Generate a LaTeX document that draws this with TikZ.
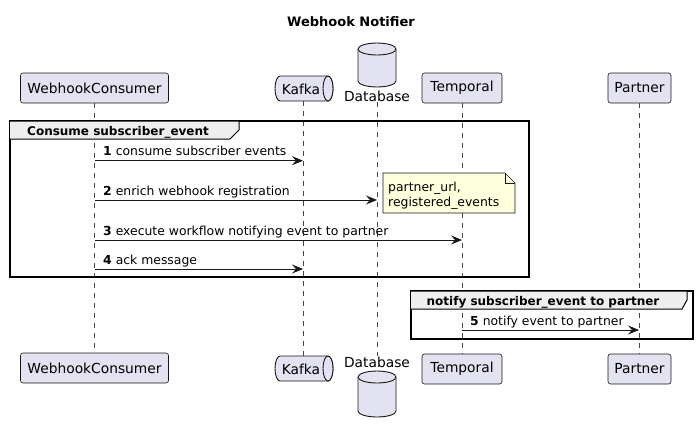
\documentclass[tikz,border=0pt]{standalone}
\usepackage{fontspec}
\setmainfont{DejaVu Sans}
\usetikzlibrary{arrows.meta}
\definecolor{partfill}{HTML}{E2E2F0}
\definecolor{partdraw}{HTML}{181818}
\definecolor{notefill}{HTML}{FEFFDD}
\definecolor{tabfill}{HTML}{EEEEEE}
\tikzset{
  part/.style={draw=partdraw, fill=partfill, line width=0.6pt, rounded corners=2.5pt,
    minimum height=30pt, inner sep=0pt, font=\fontsize{13.8}{16}\selectfont},
  plain/.style={inner sep=0pt, font=\fontsize{13.8}{16}\selectfont},
  lifeline/.style={draw=partdraw!80, line width=0.5pt, dash pattern=on 5pt off 5pt},
  msg/.style={draw=partdraw, line width=0.8pt, -{Stealth[length=11pt,width=9pt,inset=4pt]}},
  msglabel/.style={anchor=base west, inner sep=0pt, font=\fontsize{12.4}{15}\selectfont},
  grpframe/.style={draw=black, line width=1.5pt},
  grptab/.style={draw=black, fill=tabfill, line width=1pt},
  grplabel/.style={inner sep=0pt, anchor=base west, font=\bfseries\fontsize{12}{15}\selectfont},
  cyl/.style={draw=partdraw, fill=partfill, line width=0.9pt},
}
\begin{document}
\begin{tikzpicture}[x=1pt,y=-1pt]
\useasboundingbox (0,0) rectangle (698,432);
\fill[white] (0,0) rectangle (698,432);

% title
\node[inner sep=0pt, font=\bfseries\fontsize{13}{16}\selectfont] (title) at (351,22) {Webhook Notifier};

% top participants
\node[part, minimum width=148pt] (wc) at (94.5,88) {WebhookConsumer};
\node[part, minimum width=80pt] (tmp) at (462,88) {Temporal};
\node[part, minimum width=63pt] (prt) at (639.5,88) {Partner};
% Kafka queue (top)
\path[cyl] (280,76) -- (328,76) arc[start angle=270,end angle=450,x radius=5,y radius=12.5]
  -- (280,101) arc[start angle=90,end angle=270,x radius=5,y radius=12.5] -- cycle;
\draw[cyl] (328,88.5) ellipse[x radius=5,y radius=12.5];
\node[plain] (kafka) at (301,89) {Kafka};
\coordinate (kafkatop) at (303,101);
% Database (top)
\path[cyl] (358,49) -- (358,81) arc[start angle=180,end angle=0,x radius=19,y radius=6]
  -- (396,49) arc[start angle=360,end angle=180,x radius=19,y radius=6] -- cycle;
\draw[cyl] (358,49) arc[start angle=180,end angle=0,x radius=19,y radius=6];
\node[plain] (db) at (377,96.5) {Database};

% bottom participants
\node[part, minimum width=148pt] (wcb) at (94.5,368) {WebhookConsumer};
\node[part, minimum width=80pt] (tmpb) at (462,369) {Temporal};
\node[part, minimum width=63pt] (prtb) at (639.5,369) {Partner};
% Kafka queue (bottom)
\path[cyl] (280,356) -- (328,356) arc[start angle=270,end angle=450,x radius=5,y radius=12.5]
  -- (280,381) arc[start angle=90,end angle=270,x radius=5,y radius=12.5] -- cycle;
\draw[cyl] (328,368.5) ellipse[x radius=5,y radius=12.5];
\node[plain] (kafkab) at (301,369) {Kafka};
\coordinate (kafkabot) at (303,356);
% Database (bottom)
\node[plain] (dbb) at (377,362) {Database};
\path[cyl] (358,377) -- (358,411) arc[start angle=180,end angle=0,x radius=19,y radius=6]
  -- (396,377) arc[start angle=360,end angle=180,x radius=19,y radius=6] -- cycle;
\draw[cyl] (358,377) arc[start angle=180,end angle=0,x radius=19,y radius=6];

% lifelines
\draw[lifeline] (wc.south) -- (wcb.north);
\draw[lifeline] (kafkatop) -- (kafkabot);
\draw[lifeline] (db.south) -- (dbb.north);
\draw[lifeline] (tmp.south) -- (tmpb.north);
\draw[lifeline] (prt.south) -- (prtb.north);

% group 1
\draw[grpframe] (10,121) rectangle (529,277);
\draw[grptab] (10,121) -- (239,121) -- (239,130) -- (230,139) -- (10,139);
\node[grplabel] (g1) at (27,135) {Consume subscriber\_event};

% note
\draw[draw=partdraw, fill=notefill, line width=0.6pt] (383,173) -- (505,173) -- (515,183) -- (515,213) -- (383,213) -- cycle;
\draw[draw=partdraw, line width=0.6pt] (505,173) -- (505,183) -- (515,183);
\node[msglabel] (n1) at (388,191) {partner\_url,};
\node[msglabel] (n2) at (388,206) {registered\_events};

% messages
\coordinate (a1) at (95,160.7); \coordinate (b1) at (303,160.7);
\coordinate (a2) at (95,200);   \coordinate (b2) at (377,200);
\coordinate (a3) at (95,240);   \coordinate (b3) at (462,240);
\coordinate (a4) at (95,269);   \coordinate (b4) at (303,269);
\draw[msg] (a1) -- (b1);
\draw[msg] (a2) -- (b2);
\draw[msg] (a3) -- (b3);
\draw[msg] (a4) -- (b4);
\node[msglabel] (l1) at (103,155.7) {\textbf{1} consume subscriber events};
\node[msglabel] (l2) at (103,195) {\textbf{2} enrich webhook registration};
\node[msglabel] (l3) at (103,235) {\textbf{3} execute workflow notifying event to partner};
\node[msglabel] (l4) at (103,264) {\textbf{4} ack message};

% group 2
\draw[grpframe] (411,291) rectangle (693,339);
\draw[grptab] (411,291) -- (687,291) -- (687,300) -- (682,309) -- (411,309);
\node[inner sep=0pt, anchor=base, font=\bfseries\fontsize{12}{15}\selectfont] (g2) at (543,305) {notify subscriber\_event to partner};
\coordinate (a5) at (462,330); \coordinate (b5) at (639,330);
\draw[msg] (a5) -- (b5);
\node[msglabel] (l5) at (470,325) {\textbf{5} notify event to partner};
\end{tikzpicture}
\end{document}
